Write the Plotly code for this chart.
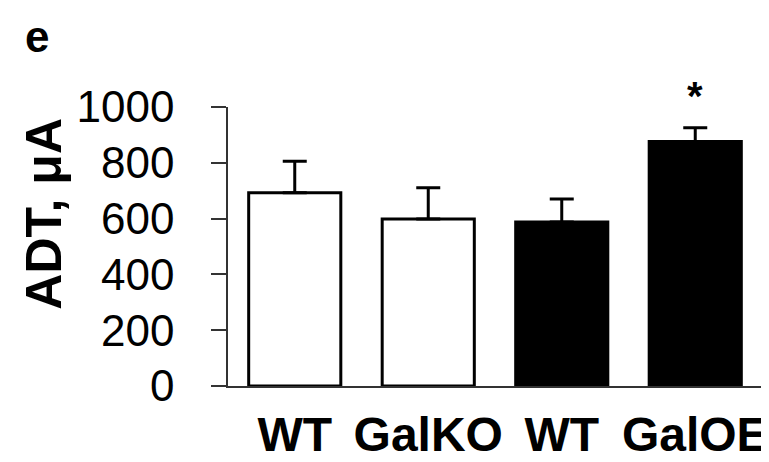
import plotly.graph_objects as go

categories = ["WT", "GalKO", "WT", "GalOE"]
adt_mean = [693, 599, 588, 876]
adt_sem = [113, 112, 82, 50]
bar_fill = ["white", "white", "black", "black"]
y_ticks = [0, 200, 400, 600, 800, 1000]
panel_label = "e"
y_title = "ADT, μA"
sig_mark = "*"

x_pos = list(range(len(categories)))
FONT = "Liberation Sans, Arial, sans-serif"

fig = go.Figure()
fig.add_trace(go.Bar(
    x=x_pos, y=adt_mean, width=0.69,
    marker=dict(color=bar_fill, line=dict(color="black", width=3)),
    error_y=dict(type="data", symmetric=False, array=adt_sem,
                 arrayminus=[0] * len(adt_sem),
                 color="black", thickness=3, width=12),
    showlegend=False,
))

fig.update_layout(
    width=769, height=462,
    margin=dict(l=220, r=9, t=99, b=69),
    paper_bgcolor="white", plot_bgcolor="white",
    font=dict(family=FONT, color="black"),
    xaxis=dict(range=[-0.5, 3.5], tickvals=x_pos, ticktext=categories,
               showline=True, linecolor="#333", linewidth=1.5,
               ticks="", showgrid=False, zeroline=False,
               tickfont=dict(family=FONT, size=48, color="black", weight="bold"),
               ticklabelstandoff=6),
    yaxis=dict(range=[0, 1000], tickvals=y_ticks,
               showline=True, linecolor="#333", linewidth=1.5,
               ticks="outside", ticklen=15, tickwidth=1.5, tickcolor="#333",
               showgrid=False, zeroline=False,
               tickfont=dict(family=FONT, size=44, color="black"),
               ticklabelstandoff=28),
)

fig.add_annotation(text=y_title, textangle=-90, xref="paper", yref="paper",
                   x=(34 - 220) / 540, y=(392.7 - 211) / 294,
                   xanchor="center", yanchor="middle", showarrow=False,
                   font=dict(family=FONT, size=50, color="black", weight="bold"))
fig.add_annotation(text=panel_label, xref="paper", yref="paper",
                   x=(27 - 220) / 540, y=(392.7 - 24) / 294,
                   xanchor="center", yanchor="middle", showarrow=False,
                   font=dict(family=FONT, size=44, color="black", weight="bold"))
fig.add_annotation(text=sig_mark, x=x_pos[3], y=adt_mean[3] + adt_sem[3],
                   xref="x", yref="y", yanchor="bottom", yshift=8,
                   showarrow=False,
                   font=dict(family=FONT, size=40, color="black", weight="bold"))

fig.write_html("out.html")
